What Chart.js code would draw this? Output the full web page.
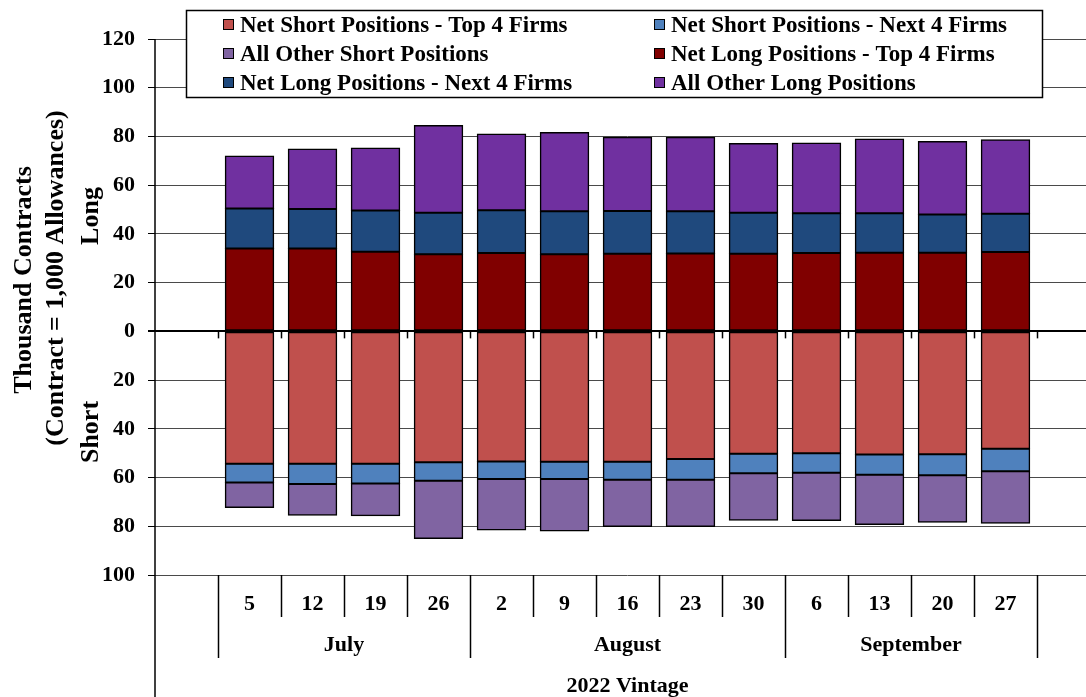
<!DOCTYPE html>
<html>
<head>
<meta charset="utf-8">
<script src="https://cdn.jsdelivr.net/npm/chart.js@4/dist/chart.umd.min.js"></script>
<style>
  html, body { margin: 0; padding: 0; overflow: hidden; background: #fff; }
  #wrap { width: 1100px; height: 697px; }
</style>
</head>
<body>
<div id="wrap"><canvas id="positionsChart" width="1100" height="697"></canvas></div>
<script>
// weekly report dates (2022 vintage)
const dates = ['5', '12', '19', '26', '2', '9', '16', '23', '30', '6', '13', '20', '27'];
const months = ['July', 'July', 'July', 'July', 'August', 'August', 'August', 'August', 'August',
                'September', 'September', 'September', 'September'];
const yTicks = [-100, -80, -60, -40, -20, 0, 20, 40, 60, 80, 100, 120];

// thousand contracts, short side kept positive
const shortTop4  = [54.3, 54.3, 54.3, 53.7, 53.4, 53.5, 53.5, 52.4, 50.2, 50.0, 50.5, 50.4, 48.2];
const shortNext4 = [7.7, 8.3, 8.1, 7.6, 7.2, 7.1, 7.4, 8.5, 8.0, 8.0, 8.4, 8.7, 9.2];
const shortOther = [10.3, 12.9, 13.3, 23.7, 20.9, 21.3, 19.2, 19.2, 19.3, 19.6, 20.4, 19.2, 21.4];
const longTop4   = [34.0, 34.0, 32.7, 31.6, 32.2, 31.6, 31.9, 32.0, 31.9, 32.2, 32.3, 32.3, 32.6];
const longNext4  = [16.4, 16.2, 16.9, 17.1, 17.5, 17.7, 17.5, 17.3, 16.8, 16.3, 16.2, 15.7, 15.7];
const longOther  = [21.6, 24.7, 25.7, 35.8, 31.3, 32.3, 30.3, 30.4, 28.4, 28.8, 30.5, 29.9, 30.3];

const FONT = 'Liberation Serif, Times New Roman, serif';

// empty slot on each side of the dates, as in the original axis
const pad = arr => [null, ...arr, null];
const labels = pad(dates).map(d => d === null ? '' : d);
const neg = arr => arr.map(v => -v);

const series = [
    { label: 'Net Short Positions - Top 4 Firms',  data: neg(shortTop4),  color: '#C0504D' },
    { label: 'Net Short Positions - Next 4 Firms', data: neg(shortNext4), color: '#4F81BD' },
    { label: 'All Other Short Positions',          data: neg(shortOther), color: '#8064A2' },
    { label: 'Net Long Positions - Top 4 Firms',   data: longTop4,        color: '#800000' },
    { label: 'Net Long Positions - Next 4 Firms',  data: longNext4,       color: '#1F497D' },
    { label: 'All Other Long Positions',           data: longOther,       color: '#7030A0' }
];

// axis labels, legend box and the multi level category axis
const decorations = {
    id: 'decorations',
    afterDraw(chart) {
        const ctx = chart.ctx;
        const x = chart.scales.x;
        const y = chart.scales.y;
        const area = chart.chartArea;
        const step = x.getPixelForValue(1) - x.getPixelForValue(0);
        const edge = i => x.getPixelForValue(i) - step / 2;   // left edge of slot i
        const y0 = y.getPixelForValue(0);
        const yb = area.bottom;

        ctx.save();
        ctx.strokeStyle = '#000';
        ctx.lineWidth = 1.5;

        // vertical axis running down through the label rows
        ctx.beginPath();
        ctx.moveTo(area.left, area.top);
        ctx.lineTo(area.left, chart.height);
        ctx.stroke();

        for (let i = 1; i <= dates.length + 1; i++) {
            const px = Math.round(edge(i)) + 0.5;
            // small ticks under the zero line
            ctx.beginPath();
            ctx.moveTo(px, y0);
            ctx.lineTo(px, y0 + 7);
            ctx.stroke();
            // date cell separators
            const monthEdge = i === 1 || i === dates.length + 1 || months[i - 1] !== months[i - 2];
            ctx.beginPath();
            ctx.moveTo(px, yb);
            ctx.lineTo(px, monthEdge ? yb + 83 : yb + 42);
            ctx.stroke();
        }

        ctx.fillStyle = '#000';
        ctx.textAlign = 'center';
        ctx.textBaseline = 'middle';
        ctx.font = 'bold 22px ' + FONT;
        dates.forEach((d, i) => ctx.fillText(d, x.getPixelForValue(i + 1), yb + 29));

        // month groups
        let start = 0;
        for (let i = 1; i <= months.length; i++) {
            if (i === months.length || months[i] !== months[start]) {
                const cx = (edge(start + 1) + edge(i + 1)) / 2;
                ctx.fillText(months[start], cx, yb + 70);
                start = i;
            }
        }
        ctx.fillText('2022 Vintage', (area.left + area.right) / 2, yb + 111);

        // rotated titles
        const vtext = (t, px, py) => {
            ctx.save();
            ctx.translate(px, py);
            ctx.rotate(-Math.PI / 2);
            ctx.fillText(t, 0, 0);
            ctx.restore();
        };
        ctx.font = 'bold 26px ' + FONT;
        vtext('Thousand Contracts', 24, 280);
        vtext('(Contract = 1,000 Allowances)', 56, 278);
        vtext('Long', 91, 216);
        vtext('Short', 91, 432);

        // legend box
        ctx.fillStyle = '#fff';
        ctx.fillRect(186, 10, 857, 88);
        ctx.lineWidth = 1.5;
        ctx.strokeStyle = '#000';
        ctx.strokeRect(186.5, 10.5, 856, 87);
        ctx.font = 'bold 23px ' + FONT;
        ctx.textAlign = 'left';
        chart.data.datasets.forEach((ds, i) => {
            const col = i % 2, row = Math.floor(i / 2);
            const bx = col === 0 ? 223 : 654;
            const by = 25 + row * 29;
            ctx.fillStyle = ds.backgroundColor;
            ctx.fillRect(bx, by - 6, 11, 11);
            ctx.lineWidth = 1;
            ctx.strokeStyle = '#000';
            ctx.strokeRect(bx + 0.5, by - 5.5, 10, 10);
            ctx.fillStyle = '#000';
            ctx.fillText(ds.label, bx + 17, by + 1);
        });
        ctx.restore();
    }
};

const canvas = document.getElementById('positionsChart');

new Chart(canvas, {
    type: 'bar',
    data: {
        labels: labels,
        datasets: series.map(s => ({
            label: s.label,
            data: pad(s.data),
            backgroundColor: s.color,
            borderColor: '#000',
            borderWidth: 1.5,
            borderSkipped: false,
            inflateAmount: 0.5,
            categoryPercentage: 1,
            barPercentage: 0.77,
            stack: 'all'
        }))
    },
    options: {
        responsive: false,
        animation: false,
        layout: { padding: { top: 39, bottom: 122, left: 0, right: 0 } },
        plugins: {
            legend: { display: false },
            tooltip: { enabled: false }
        },
        scales: {
            x: {
                stacked: true,
                display: false
            },
            y: {
                stacked: true,
                min: -100,
                max: 120,
                afterBuildTicks: scale => { scale.ticks = yTicks.map(v => ({ value: v })); },
                afterFit: scale => { scale.width = 155; },
                border: { display: false },
                grid: {
                    color: c => c.tick && c.tick.value === 0 ? '#000' : '#4a4a4a',
                    lineWidth: c => c.tick && c.tick.value === 0 ? 2 : 1,
                    tickLength: 7,
                    tickColor: '#000'
                },
                ticks: {
                    padding: 13,
                    color: '#000',
                    font: { family: FONT, size: 22, weight: 'bold' },
                    callback: v => Math.abs(v)
                }
            }
        }
    },
    plugins: [decorations]
});
</script>
</body>
</html>
